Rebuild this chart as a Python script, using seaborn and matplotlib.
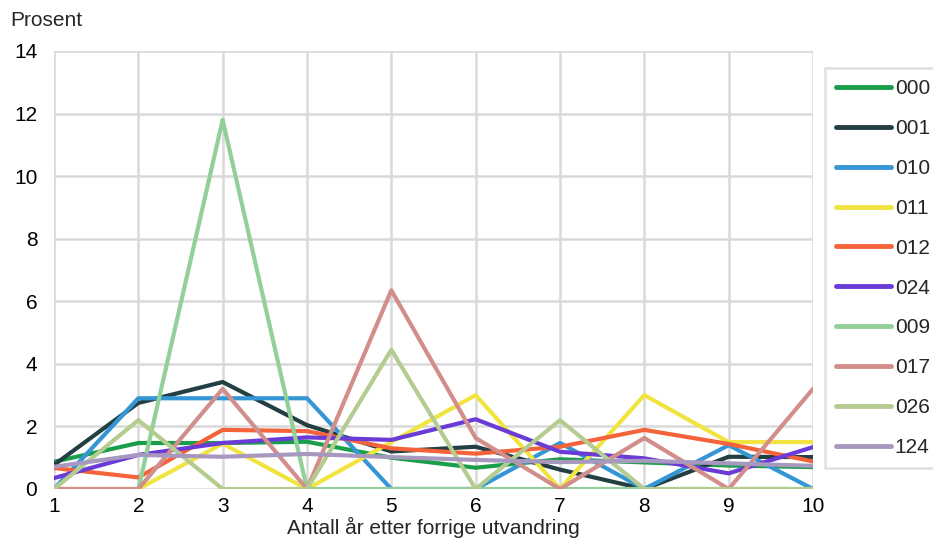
import pandas as pd
import numpy as np
import seaborn as sns
import matplotlib.pyplot as plt

# Data
years = [1, 2, 3, 4, 5, 6, 7, 8, 9, 10]
series_names = ["000", "001", "010", "011", "012", "024", "009", "017", "026", "124"]
colors = ["#1b9e4b", "#243f43", "#3596d6", "#f2e440", "#f4633a",
          "#6a3bd6", "#92d098", "#d28e8b", "#b5cc90", "#a798bf"]

s000 = [0.87, 1.47, 1.47, 1.51, 1.0, 0.68, 0.95, 0.85, 0.75, 0.7]
s001 = [0.77, 2.75, 3.42, 2.04, 1.2, 1.35, 0.62, 0.0, 1.03, 1.02]
s010 = [0.0, 2.9, 2.9, 2.9, 0.0, 0.0, 1.47, 0.0, 1.4, 0.0]
s011 = [0.0, 0.0, 1.45, 0.0, 1.5, 3.0, 0.0, 3.0, 1.5, 1.5]
s012 = [0.67, 0.37, 1.89, 1.85, 1.3, 1.13, 1.35, 1.89, 1.44, 0.88]
s024 = [0.35, 1.09, 1.47, 1.65, 1.57, 2.23, 1.19, 0.98, 0.5, 1.34]
s009 = [0.0, 0.0, 11.8, 0.0, 0.0, 0.0, 0.0, 0.0, 0.0, 0.0]
s017 = [0.0, 0.0, 3.2, 0.0, 6.35, 1.63, 0.0, 1.63, 0.0, 3.2]
s026 = [0.0, 2.2, 0.0, 0.0, 4.45, 0.0, 2.2, 0.0, 0.0, 0.0]
s124 = [0.71, 1.09, 1.03, 1.12, 1.02, 0.93, 0.86, 0.9, 0.82, 0.74]

all_series = [s000, s001, s010, s011, s012, s024, s009, s017, s026, s124]

# Long-form table for seaborn
df = pd.DataFrame({
    "year": np.tile(years, len(series_names)),
    "value": np.concatenate(all_series),
    "series": np.repeat(series_names, len(years)),
})

sns.set_style("white")
plt.rcParams['font.family'] = ['Liberation Sans', 'DejaVu Sans']
fs = 15

fig = plt.figure(figsize=(9.33, 5.41), dpi=100)
ax = fig.add_axes([54 / 933, 1 - 489 / 541, (813 - 54) / 933, (489 - 51) / 541])

sns.lineplot(data=df, x="year", y="value", hue="series", hue_order=series_names,
             palette=colors, linewidth=3, ax=ax, legend=True)

ax.set_xlim(1, 10)
ax.set_ylim(0, 14)
ax.set_xticks(years)
ax.set_yticks(range(0, 15, 2))
ax.grid(True, color="#d9d9d9", linewidth=1.8)
ax.set_axisbelow(True)
for sp in ax.spines.values():
    sp.set_visible(False)
ax.tick_params(axis="both", length=0, labelsize=fs, colors="black")
ax.tick_params(axis="y", pad=12)
ax.tick_params(axis="x", pad=6)

ax.set_xlabel("Antall år etter forrige utvandring", fontsize=fs, va="top")
ax.xaxis.set_label_coords(0.5, (489 - 517) / 438)
ax.set_ylabel("")
fig.text(10 / 933, 1 - 21 / 541, "Prosent", fontsize=fs, va="center", ha="left")

leg = ax.legend(loc="upper left", bbox_to_anchor=(825 / 933, 1 - 68 / 541),
                bbox_transform=fig.transFigure, frameon=True, fontsize=fs,
                handlelength=2.6, handletextpad=0.2, labelspacing=1.0,
                borderpad=0.55, borderaxespad=0, fancybox=False)
leg.get_frame().set_edgecolor("#d9d9d9")
leg.get_frame().set_linewidth(1.8)
for line in leg.get_lines():
    line.set_linewidth(3.5)

fig.savefig("out.png", dpi=100)
